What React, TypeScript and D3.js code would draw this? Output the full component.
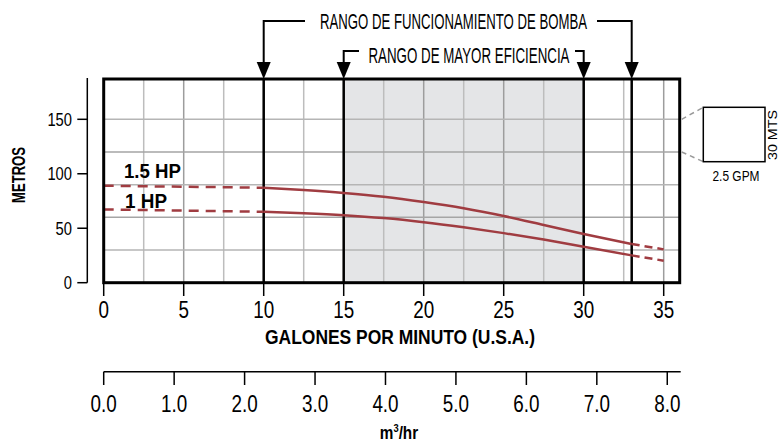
import React from 'react';
import * as d3 from 'd3';

const gpmTicks = [0, 5, 10, 15, 20, 25, 30, 35];
const m3Ticks = [0, 1, 2, 3, 4, 5, 6, 7, 8];
const metroTicks = [0, 50, 100, 150];
const gridGpm = [2.5, 5, 7.5, 10, 12.5, 15, 17.5, 20, 22.5, 25, 27.5, 30, 32.5, 35];
const gridMetros = [30, 60, 90, 120, 150];

const curveGpm = [0, 10, 12.5, 15, 17.5, 20, 22.5, 25, 27.5, 30, 33, 35];
const hp15Metros = [89, 87.2, 85, 82.3, 78.8, 74, 68.3, 61.2, 53, 44.7, 35.5, 30.6];
const hp1Metros = [67.3, 65.1, 63.8, 62, 59.3, 55.5, 50.8, 45.5, 39.6, 33, 25.1, 20.2];
const seriesNames = ['1.5 HP', '1 HP'];

const operatingRange = [10, 33];
const efficiencyRange = [15, 30];
const GPM_TO_M3H = 0.227125;

const FONT = "'Liberation Sans', Arial, sans-serif";
const RED = '#a03c41';

function NText(props: { x: number; y: number; size: number; anchor?: string; bold?: boolean; sx?: number; children: any }) {
  const { x, y, size, anchor = 'start', bold = false, sx = 0.82, children } = props;
  return (
    <text transform={`translate(${x},${y}) scale(${sx},1)`} fontSize={size} textAnchor={anchor as any}
      fontWeight={bold ? 'bold' : 'normal'}>{children}</text>
  );
}

export default function App() {
  const x = d3.scaleLinear().domain([0, 36]).range([103.7, 679.7]);
  const y = d3.scaleLinear().domain([0, 187]).range([282.7, 79]);
  const xm = d3.scaleLinear().domain([0, 36 * GPM_TO_M3H]).range([103.7, 679.7]);

  const solid = d3.line<[number, number]>().x(d => x(d[0])).y(d => y(d[1])).curve(d3.curveMonotoneX);
  const straight = d3.line<[number, number]>().x(d => x(d[0])).y(d => y(d[1]));

  const series = [hp15Metros, hp1Metros].map(vals => {
    const pts: [number, number][] = curveGpm.map((g, i) => [g, vals[i]]);
    return {
      pre: pts.filter(p => p[0] <= operatingRange[0]),
      mid: pts.filter(p => p[0] >= operatingRange[0] && p[0] <= operatingRange[1]),
      post: pts.filter(p => p[0] >= operatingRange[1]),
    };
  });

  const top = y.range()[1];
  const bottom = y.range()[0];
  const left = x.range()[0];
  const right = x.range()[1];

  const arrow = (px: number) => `M${px - 7},${top - 17} L${px + 7},${top - 17} L${px},${top} Z`;

  const opL = x(operatingRange[0]);
  const opR = x(operatingRange[1]);
  const efL = x(efficiencyRange[0]);
  const efR = x(efficiencyRange[1]);

  return (
    <svg width={780} height={442} style={{ position: 'absolute', left: 0, top: 0, background: '#fff' }}
      fontFamily={FONT}>
      {/* shaded efficiency area */}
      <rect x={efL} y={top} width={efR - efL} height={bottom - top} fill="#e4e5e7" />
      {/* grid */}
      {gridGpm.map(g => (
        <line key={'gx' + g} x1={x(g)} x2={x(g)} y1={top} y2={bottom}
          stroke={g % 5 === 0 ? '#9d9d9d' : '#bdbdbd'} strokeWidth={1.5} />
      ))}
      {gridMetros.map(m => (
        <line key={'gy' + m} x1={left} x2={right} y1={y(m)} y2={y(m)}
          stroke={m % 60 === 0 ? '#a5a5a5' : '#b5b5b5'} strokeWidth={1.5} />
      ))}
      {/* range lines */}
      {[...operatingRange, ...efficiencyRange].map(g => (
        <line key={'r' + g} x1={x(g)} x2={x(g)} y1={top} y2={bottom} stroke="#000" strokeWidth={2.5} />
      ))}
      {/* curves */}
      {series.map((s, i) => (
        <g key={'s' + i} fill="none" stroke={RED} strokeWidth={2.5}>
          <path d={straight(s.pre) || ''} strokeDasharray="10 7" />
          <path d={solid(s.mid) || ''} />
          <path d={straight(s.post) || ''} strokeDasharray="8 5" />
        </g>
      ))}
      {/* frame */}
      <rect x={left} y={top} width={right - left} height={bottom - top} fill="none" stroke="#000" strokeWidth={3} />

      {/* series labels */}
      <text x={124} y={178.3} fontSize={21} fontWeight="bold" textLength={57} lengthAdjust="spacingAndGlyphs">{seriesNames[0]}</text>
      <text x={125} y={208.3} fontSize={21} fontWeight="bold" textLength={42} lengthAdjust="spacingAndGlyphs">{seriesNames[1]}</text>

      {/* top brackets */}
      <g stroke="#000" strokeWidth={2} fill="none">
        <path d={`M${opL},${top - 16} V21 H305`} />
        <path d={`M597,21 H${opR} V${top - 16}`} />
        <path d={`M${efL},${top - 16} V51 H359`} />
        <path d={`M575,51 H${efR} V${top - 16}`} />
      </g>
      {[opL, opR, efL, efR].map((p, i) => <path key={'a' + i} d={arrow(p)} fill="#000" />)}
      <text x={320} y={29.3} fontSize={22} textLength={267} lengthAdjust="spacingAndGlyphs">RANGO DE FUNCIONAMIENTO DE BOMBA</text>
      <text x={368.5} y={63} fontSize={22} textLength={201} lengthAdjust="spacingAndGlyphs">RANGO DE MAYOR EFICIENCIA</text>

      {/* y axis */}
      <line x1={87.3} x2={87.3} y1={78} y2={bottom} stroke="#000" strokeWidth={1.5} />
      {metroTicks.map(m => (
        <g key={'yt' + m}>
          <line x1={77.3} x2={87.3} y1={y(m)} y2={y(m)} stroke="#000" strokeWidth={1.5} />
          <NText x={72} y={y(m) + 6.5} size={18} anchor="end">{m}</NText>
        </g>
      ))}
      <text transform="translate(25,175) rotate(-90)" fontSize={19} fontWeight="bold" textAnchor="middle" textLength={56} lengthAdjust="spacingAndGlyphs">METROS</text>

      {/* x axis (GPM) */}
      {gpmTicks.map(g => (
        <g key={'xt' + g}>
          <line x1={x(g)} x2={x(g)} y1={bottom} y2={296} stroke="#000" strokeWidth={1.5} />
          <NText x={x(g)} y={318.3} size={23} anchor="middle">{g}</NText>
        </g>
      ))}
      <text x={400} y={344} fontSize={20} fontWeight="bold" textAnchor="middle" textLength={270} lengthAdjust="spacingAndGlyphs">GALONES POR MINUTO (U.S.A.)</text>

      {/* m3/hr axis */}
      <line x1={xm(0)} x2={xm.range()[1] + 1} y1={371.7} y2={371.7} stroke="#000" strokeWidth={1.5} />
      {m3Ticks.map(m => (
        <g key={'mt' + m}>
          <line x1={xm(m)} x2={xm(m)} y1={371.7} y2={385} stroke="#000" strokeWidth={1.5} />
          <NText x={xm(m)} y={411.7} size={23} anchor="middle">{m.toFixed(1)}</NText>
        </g>
      ))}
      <text transform="translate(399,439) scale(0.85,1)" fontSize={18} fontWeight="bold" textAnchor="middle">m<tspan fontSize={11} dy={-7}>3</tspan><tspan dy={7}>/hr</tspan></text>

      {/* scale legend box */}
      <g stroke="#999" strokeWidth={1.5} strokeDasharray="5 4">
        <line x1={right + 2} y1={y(150)} x2={703.3} y2={107.3} />
        <line x1={right + 2} y1={y(120)} x2={703.3} y2={161.7} />
      </g>
      <rect x={703.3} y={107.3} width={61.7} height={54.4} fill="#fff" stroke="#000" strokeWidth={1.5} />
      <text x={736} y={181} fontSize={14} textAnchor="middle" textLength={47} lengthAdjust="spacingAndGlyphs">2.5 GPM</text>
      <text transform="translate(777,135) rotate(-90)" fontSize={13} textAnchor="middle" textLength={50} lengthAdjust="spacingAndGlyphs">30 MTS</text>
    </svg>
  );
}
